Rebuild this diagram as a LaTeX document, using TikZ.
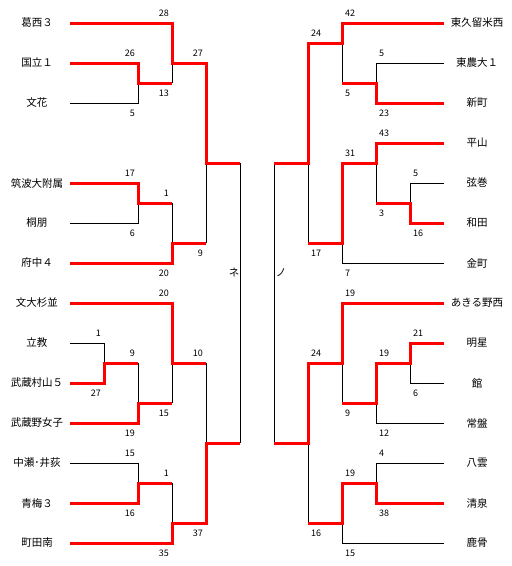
\documentclass[tikz,border=0pt]{standalone}
\usepackage{fontspec}
\setmainfont{Noto Sans CJK JP}
\begin{document}
\begin{tikzpicture}[x=1pt,y=-1pt,
  team/.style={font=\fontsize{10.5}{12}\selectfont, inner sep=0pt},
  scoreL/.style={font=\fontsize{9}{10}\selectfont, inner sep=0pt, anchor=east},
  scoreR/.style={font=\fontsize{9}{10}\selectfont, inner sep=0pt, anchor=west},
  win/.style={draw=red, line width=3pt, miter limit=10},
  lose/.style={draw=black, line width=1pt}]
\useasboundingbox (0,0) rectangle (512,566);
% ---------- team names (left) ----------
\node[team] (L1) at (37,23) {葛西３};
\node[team] (L2) at (37,63) {国立１};
\node[team] (L3) at (37,103) {文花};
\node[team] (L4) at (37,183) {筑波大附属};
\node[team] (L5) at (37,223) {桐朋};
\node[team] (L6) at (37,263) {府中４};
\node[team] (L7) at (37,303) {文大杉並};
\node[team] (L8) at (37,343) {立教};
\node[team] (L9) at (37,383) {武蔵村山５};
\node[team] (L10) at (37,423) {武蔵野女子};
\node[team] (L11) at (37,463) {中瀬･井荻};
\node[team] (L12) at (37,503) {青梅３};
\node[team] (L13) at (37,543) {町田南};
% ---------- team names (right) ----------
\node[team] (R1) at (477,23) {東久留米西};
\node[team] (R2) at (477,63) {東農大１};
\node[team] (R3) at (477,103) {新町};
\node[team] (R4) at (477,143) {平山};
\node[team] (R5) at (477,183) {弦巻};
\node[team] (R6) at (477,223) {和田};
\node[team] (R7) at (477,263) {金町};
\node[team] (R8) at (477,303) {あきる野西};
\node[team] (R9) at (477,343) {明星};
\node[team] (R10) at (477,383) {館};
\node[team] (R11) at (477,423) {常盤};
\node[team] (R12) at (477,463) {八雲};
\node[team] (R13) at (477,503) {清泉};
\node[team] (R14) at (477,543) {鹿骨};
% line start coordinates
\foreach \n/\y in {1/23,2/63,3/103,4/183,5/223,6/263,7/303,8/343,9/383,10/423,11/463,12/503,13/543}
  \coordinate (l\n) at (70,\y);
\foreach \n/\y in {1/23,2/63,3/103,4/143,5/183,6/223,7/263,8/303,9/343,10/383,11/423,12/463,13/503,14/543}
  \coordinate (r\n) at (444,\y);
% ---------- losing (black) lines, left ----------
\draw[lose] (l3) -- (138,103) -- (138,83);
\draw[lose] (172,83) -- (172,63);
\draw[lose] (l5) -- (138,223) -- (138,203);
\draw[lose] (172,203) -- (172,243);
\draw[lose] (206,243) -- (206,163);
\draw[lose] (240,163) -- (240,443);
\draw[lose] (l8) -- (104,343) -- (104,363);
\draw[lose] (138,363) -- (138,403);
\draw[lose] (172,403) -- (172,363);
\draw[lose] (206,363) -- (206,443);
\draw[lose] (l11) -- (138,463) -- (138,483);
\draw[lose] (172,483) -- (172,523);
% ---------- losing (black) lines, right ----------
\draw[lose] (r2) -- (376,63) -- (376,83);
\draw[lose] (342,83) -- (342,43);
\draw[lose] (308,163) -- (308,243);
\draw[lose] (376,163) -- (376,203);
\draw[lose] (r5) -- (410,183) -- (410,203);
\draw[lose] (r7) -- (342,263) -- (342,243);
\draw[lose] (274,163) -- (274,443);
\draw[lose] (342,363) -- (342,403);
\draw[lose] (r10) -- (410,383) -- (410,363);
\draw[lose] (r11) -- (376,423) -- (376,403);
\draw[lose] (308,443) -- (308,523);
\draw[lose] (r12) -- (376,463) -- (376,483);
\draw[lose] (r14) -- (342,543) -- (342,523);
% ---------- winning (red) lines, left ----------
\draw[win] (l1) -- (172,23) -- (172,63) -- (206,63) -- (206,163) -- (240,163);
\draw[win] (l2) -- (138,63) -- (138,83) -- (172,83);
\draw[win] (l4) -- (138,183) -- (138,203) -- (172,203);
\draw[win] (l6) -- (172,263) -- (172,243) -- (206,243);
\draw[win] (l7) -- (172,303) -- (172,363) -- (206,363);
\draw[win] (l9) -- (104,383) -- (104,363) -- (138,363);
\draw[win] (l10) -- (138,423) -- (138,403) -- (172,403);
\draw[win] (l12) -- (138,503) -- (138,483) -- (172,483);
\draw[win] (l13) -- (172,543) -- (172,523) -- (206,523) -- (206,443) -- (240,443);
% ---------- winning (red) lines, right ----------
\draw[win] (r1) -- (342,23) -- (342,43) -- (308,43) -- (308,163) -- (274,163);
\draw[win] (r3) -- (376,103) -- (376,83) -- (342,83);
\draw[win] (r4) -- (376,143) -- (376,163) -- (342,163) -- (342,243) -- (308,243);
\draw[win] (r6) -- (410,223) -- (410,203) -- (376,203);
\draw[win] (r8) -- (342,303) -- (342,363) -- (308,363) -- (308,443) -- (274,443);
\draw[win] (r9) -- (410,343) -- (410,363) -- (376,363) -- (376,403) -- (342,403);
\draw[win] (r13) -- (376,503) -- (376,483) -- (342,483) -- (342,523) -- (308,523);
% ---------- scores, left ----------
\foreach \c/\y/\t [count=\i] in {172/13/28,138/53/26,138/113/5,172/93/13,206/53/27,
  138/173/17,138/233/6,172/193/1,172/273/20,206/253/9,
  172/293/20,104/333/1,104/393/27,138/353/9,138/433/19,172/413/15,206/353/10,
  138/453/15,138/513/16,172/473/1,172/553/35,206/533/37}
  \node[scoreL] (sl\i) at (\c-3,\y) {\t};
% ---------- scores, right ----------
\foreach \c/\y/\t [count=\i] in {342/13/42,308/33/24,376/53/5,342/93/5,376/113/23,
  376/133/43,342/153/31,410/173/5,376/213/3,410/233/16,308/253/17,342/273/7,
  342/293/19,410/333/21,308/353/24,376/353/19,410/393/6,342/413/9,376/433/12,
  376/453/4,342/473/19,376/513/38,308/533/16,342/553/15}
  \node[scoreR] (sr\i) at (\c+3,\y) {\t};
% ---------- block labels ----------
\node[team] (ne) at (234,273) {ネ};
\node[team] (no) at (281,273) {ノ};
\end{tikzpicture}
\end{document}
